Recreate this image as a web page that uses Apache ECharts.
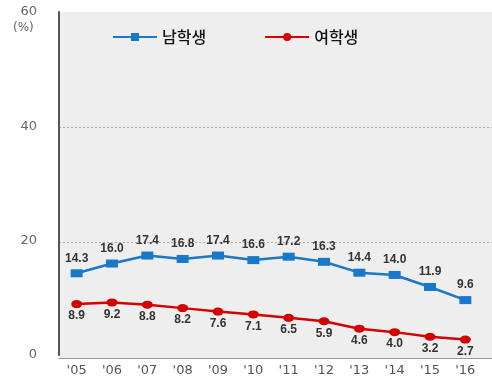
<!DOCTYPE html>
<html>
<head>
    <meta charset="utf-8" />
    <title>남학생 / 여학생</title>
    <script src="https://cdn.jsdelivr.net/npm/echarts@6/dist/echarts.min.js"></script>
    <style>
        html, body { margin: 0; padding: 0; background: #fff; }
        #chart { width: 492px; height: 377px; }
    </style>
</head>
<body>
    <div id="chart"></div>
    <script>
        // 연도 (카테고리)
        var years = ["'05", "'06", "'07", "'08", "'09", "'10", "'11", "'12", "'13", "'14", "'15", "'16"];
        // 남학생 (%)
        var boys = [14.3, 16.0, 17.4, 16.8, 17.4, 16.6, 17.2, 16.3, 14.4, 14.0, 11.9, 9.6];
        // 여학생 (%)
        var girls = [8.9, 9.2, 8.8, 8.2, 7.6, 7.1, 6.5, 5.9, 4.6, 4.0, 3.2, 2.7];
        // y축 눈금
        var yTicks = [0, 20, 40, 60];

        var chart = echarts.init(document.getElementById('chart'));

        var labelFont = {
            fontFamily: 'Liberation Sans',
            fontSize: 12,
            fontWeight: 'bold',
            color: '#333'
        };

        var option = {
            backgroundColor: '#ffffff',
            animation: false,
            legend: {
                top: 24,
                left: 107,
                itemWidth: 44,
                itemHeight: 10,
                itemGap: 58,
                textStyle: {
                    fontFamily: 'Noto Sans CJK KR',
                    fontSize: 16,
                    fontWeight: 500,
                    color: '#111'
                },
                data: ['남학생', '여학생']
            },
            grid: [
                // 데이터용
                { left: 59, right: 9, top: 12, bottom: 19 },
                // 배경, 점선, 아래 축선 (오른쪽 끝까지)
                { left: 59, right: 0, top: 12, bottom: 19, show: true, backgroundColor: '#eeeeee', borderWidth: 0, z: -1 }
            ],
            xAxis: [
                {
                    type: 'category',
                    gridIndex: 0,
                    data: years,
                    boundaryGap: true,
                    axisLine: { show: false },
                    axisTick: { show: false },
                    axisLabel: {
                        margin: 9,
                        fontFamily: 'DejaVu Sans',
                        fontSize: 13,
                        color: '#555'
                    }
                },
                {
                    type: 'value',
                    gridIndex: 1,
                    min: 0,
                    max: 1,
                    axisLine: { show: true, lineStyle: { color: '#999', width: 1 } },
                    axisTick: { show: false },
                    axisLabel: { show: false },
                    splitLine: { show: false }
                }
            ],
            yAxis: [
                {
                    type: 'value',
                    gridIndex: 0,
                    min: yTicks[0],
                    max: yTicks[yTicks.length - 1],
                    interval: 20,
                    axisLine: { show: true, lineStyle: { color: '#555', width: 2 } },
                    axisTick: { show: false },
                    splitLine: { show: false },
                    axisLabel: {
                        margin: 22,
                        fontFamily: 'DejaVu Sans',
                        fontSize: 13,
                        color: '#666'
                    }
                },
                {
                    type: 'value',
                    gridIndex: 1,
                    min: yTicks[0],
                    max: yTicks[yTicks.length - 1],
                    interval: 20,
                    axisLine: { show: false },
                    axisTick: { show: false },
                    axisLabel: { show: false },
                    splitLine: {
                        show: true,
                        showMinLine: false,
                        showMaxLine: false,
                        lineStyle: { color: '#aaa', type: [2, 2], width: 1 }
                    }
                }
            ],
            graphic: [
                {
                    type: 'text',
                    left: 13,
                    top: 22,
                    style: {
                        text: '(%)',
                        fontFamily: 'DejaVu Sans',
                        fontSize: 12,
                        fill: '#666'
                    }
                }
            ],
            series: [
                {
                    name: '남학생',
                    type: 'line',
                    xAxisIndex: 0,
                    yAxisIndex: 0,
                    data: boys,
                    symbol: 'rect',
                    symbolSize: [12, 8],
                    lineStyle: { color: '#1a78c8', width: 2.5 },
                    itemStyle: { color: '#1a78c8' },
                    label: {
                        show: true,
                        position: 'top',
                        distance: 5,
                        formatter: function (p) { return p.value.toFixed(1); },
                        fontFamily: labelFont.fontFamily,
                        fontSize: labelFont.fontSize,
                        fontWeight: labelFont.fontWeight,
                        color: labelFont.color
                    },
                    z: 3
                },
                {
                    name: '여학생',
                    type: 'line',
                    xAxisIndex: 0,
                    yAxisIndex: 0,
                    data: girls,
                    symbol: 'circle',
                    symbolSize: [11, 8],
                    lineStyle: { color: '#d40000', width: 2.5 },
                    itemStyle: { color: '#d40000' },
                    label: {
                        show: true,
                        position: 'bottom',
                        distance: 2,
                        formatter: function (p) { return p.value.toFixed(1); },
                        fontFamily: labelFont.fontFamily,
                        fontSize: labelFont.fontSize,
                        fontWeight: labelFont.fontWeight,
                        color: labelFont.color
                    },
                    z: 3
                }
            ]
        };

        chart.setOption(option);
    </script>
</body>
</html>
